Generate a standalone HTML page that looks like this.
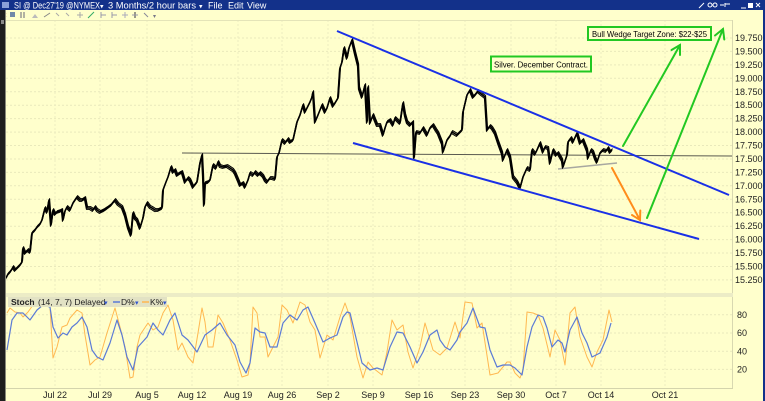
<!DOCTYPE html>
<html><head><meta charset="utf-8">
<style>
html,body{margin:0;padding:0;background:#ffffcc;overflow:hidden;}
svg{display:block;font-family:"Liberation Sans","DejaVu Sans",sans-serif;}
</style></head><body>
<svg id="s" width="765" height="401" viewBox="0 0 765 401" xmlns="http://www.w3.org/2000/svg">
<defs>
<polyline id="pr" fill="none" stroke-linejoin="round" points="6,278 8,274 10,272 12,269 13,267 15,270 17,268 20,265 22,262 23,248 25,253 28,250 30,252 32,233 35,230 37,227 40,224 42,220 45,208 47,212 49,200 51,225 53,210 55,214 57,212 60,211 62,210 63,220 65,211 67,207 70,210 73,203 75,200 77,197 80,200 82,200 85,198 87,208 90,208 93,210 95,207 97,210 100,212 104,210 107,208 111,205 115,200 118,204 122,207 125,215 128,227 131,235 133,213 135,218 137,220 140,228 143,218 145,207 147,203 150,207 152,208 155,210 158,210 162,208 163,190 166,182 168,177 171,167 173,172 175,170 177,175 180,173 182,172 185,182 188,178 190,180 193,187 197,182 200,163 202,155 203,175 204,205 205,183 208,182 210,180 213,165 216,168 218,162 220,166 223,167 227,166 230,168 233,170 235,173 238,180 240,185 243,183 245,187 248,180 250,173 253,175 255,172 258,175 260,173 263,176 265,180 267,182 270,178 272,178 275,179 277,157 279,153 282,140 285,143 288,139 290,142 293,140 297,122 300,115 303,105 305,112 307,108 310,102 312,97 313,92 315,122 318,115 320,110 322,105 325,112 327,108 330,98 333,106 335,103 338,98 340,68 342,62 344,48 347,58 349,48 352,40 355,53 358,65 359,88 362,97 365,85 367,122 368,87 370,123 373,115 377,125 380,125 383,135 385,128 387,122 390,120 393,125 395,118 400,123 403,103 405,115 407,122 410,125 413,122 414,158 416,132 420,133 423,128 427,135 430,128 433,125 436,130 438,133 442,143 443,152 447,140 450,136 452,132 457,135 462,130 463,112 467,95 470,90 473,97 475,95 478,91 480,93 485,97 487,130 490,126 492,128 495,133 498,142 502,153 503,160 507,150 510,157 513,177 517,182 520,188 523,177 527,168 530,170 532,150 535,154 537,150 540,143 543,152 545,147 548,148 550,163 553,150 556,155 558,153 562,160 563,167 567,155 568,142 571,138 573,142 577,133 580,143 583,140 587,150 588,158 591,150 593,152 595,158 597,162 600,153 603,150 606,151 608,148 610,152 612,150"/>
</defs>
<rect width="765" height="401" fill="#ffffcc"/>

<!-- grids -->
<g stroke="#e9e9bb" stroke-width="1" stroke-dasharray="2,2">
<line x1="6" y1="38" x2="732" y2="38"/><line x1="6" y1="51.4" x2="732" y2="51.4"/><line x1="6" y1="64.9" x2="732" y2="64.9"/><line x1="6" y1="78.3" x2="732" y2="78.3"/><line x1="6" y1="91.8" x2="732" y2="91.8"/><line x1="6" y1="105.2" x2="732" y2="105.2"/><line x1="6" y1="118.6" x2="732" y2="118.6"/><line x1="6" y1="132.1" x2="732" y2="132.1"/><line x1="6" y1="145.5" x2="732" y2="145.5"/><line x1="6" y1="159" x2="732" y2="159"/><line x1="6" y1="172.4" x2="732" y2="172.4"/><line x1="6" y1="185.8" x2="732" y2="185.8"/><line x1="6" y1="199.3" x2="732" y2="199.3"/><line x1="6" y1="212.7" x2="732" y2="212.7"/><line x1="6" y1="226.2" x2="732" y2="226.2"/><line x1="6" y1="239.6" x2="732" y2="239.6"/><line x1="6" y1="253" x2="732" y2="253"/><line x1="6" y1="266.5" x2="732" y2="266.5"/><line x1="6" y1="279.9" x2="732" y2="279.9"/>
<line x1="6" y1="314.7" x2="732" y2="314.7"/><line x1="6" y1="333" x2="732" y2="333"/><line x1="6" y1="351.2" x2="732" y2="351.2"/><line x1="6" y1="369.4" x2="732" y2="369.4"/>
</g>
<g stroke="#ececc0" stroke-width="1" stroke-dasharray="2,2">
<line x1="55" y1="20" x2="55" y2="388"/><line x1="100" y1="20" x2="100" y2="388"/><line x1="147" y1="20" x2="147" y2="388"/><line x1="192" y1="20" x2="192" y2="388"/><line x1="238" y1="20" x2="238" y2="388"/><line x1="282" y1="20" x2="282" y2="388"/><line x1="328" y1="20" x2="328" y2="388"/><line x1="373" y1="20" x2="373" y2="388"/><line x1="419" y1="20" x2="419" y2="388"/><line x1="465" y1="20" x2="465" y2="388"/><line x1="511" y1="20" x2="511" y2="388"/><line x1="556" y1="20" x2="556" y2="388"/><line x1="601" y1="20" x2="601" y2="388"/><line x1="665" y1="20" x2="665" y2="388"/>
</g>

<!-- panel borders -->
<line x1="6" y1="20.5" x2="732" y2="20.5" stroke="#e4e4b8"/>
<line x1="732.5" y1="20" x2="732.5" y2="388" stroke="#d8d8b0"/>
<rect x="6" y="293" width="727" height="4" fill="#ececc6"/>
<line x1="6" y1="388.5" x2="733" y2="388.5" stroke="#d4d4ac"/>

<!-- horizontal support line -->
<line x1="182" y1="153" x2="732" y2="156" stroke="#5a5a50" stroke-width="1"/>
<line x1="558" y1="169" x2="617" y2="163" stroke="#a8a8a0" stroke-width="1.6"/>

<!-- price series (thick jagged look) -->
<use href="#pr" stroke="#000" stroke-width="1.6"/>
<use href="#pr" stroke="#000" stroke-width="1" transform="translate(0.6,-1.4)"/>
<use href="#pr" stroke="#000" stroke-width="1" transform="translate(-0.6,1.4)"/>

<!-- wedge lines -->
<line x1="337" y1="31" x2="729" y2="195" stroke="#1a30e6" stroke-width="2"/>
<line x1="353" y1="143" x2="699" y2="239" stroke="#1a30e6" stroke-width="2"/>

<!-- arrows -->
<g fill="none" stroke="#22c822" stroke-width="2" stroke-linecap="round">
<line x1="623" y1="146" x2="680" y2="45"/>
<polyline points="671.5,50 680,45 680,55"/>
<line x1="647" y1="218" x2="723" y2="29"/>
<polyline points="715,35.5 723,29 724.3,39.5"/>
</g>
<g fill="none" stroke="#ff8c1a" stroke-width="2" stroke-linecap="round">
<line x1="612" y1="168" x2="640" y2="220"/>
<polyline points="632,215 640,220 640.3,210.5"/>
</g>

<!-- label boxes -->
<rect x="588" y="27" width="123" height="13" fill="#ffffcc" stroke="#22c822" stroke-width="2"/>
<text x="592" y="37" font-size="8.5" fill="#000" textLength="115" lengthAdjust="spacingAndGlyphs">Bull Wedge Target Zone: $22-$25</text>
<rect x="491" y="56.5" width="100" height="15" fill="#ffffcc" stroke="#22c822" stroke-width="2"/>
<text x="494" y="67.5" font-size="8.5" fill="#000" textLength="94" lengthAdjust="spacingAndGlyphs">Silver. December Contract.</text>

<!-- price axis labels -->
<g font-size="9" fill="#222">
<text x="735" y="41">19.750</text><text x="735" y="54.4">19.500</text><text x="735" y="67.9">19.250</text><text x="735" y="81.3">19.000</text><text x="735" y="94.8">18.750</text><text x="735" y="108.2">18.500</text><text x="735" y="121.6">18.250</text><text x="735" y="135.1">18.000</text><text x="735" y="148.5">17.750</text><text x="735" y="162">17.500</text><text x="735" y="175.4">17.250</text><text x="735" y="188.8">17.000</text><text x="735" y="202.3">16.750</text><text x="735" y="215.7">16.500</text><text x="735" y="229.2">16.250</text><text x="735" y="242.6">16.000</text><text x="735" y="256">15.750</text><text x="735" y="269.5">15.500</text><text x="735" y="282.9">15.250</text>
<text x="737" y="318">80</text><text x="737" y="336">60</text><text x="737" y="354.5">40</text><text x="737" y="372.5">20</text>
</g>

<!-- stochastic -->
<polyline fill="none" stroke="#ffb850" stroke-width="1" stroke-linejoin="round" points="7,313 10,308 15,312 20,313 23,317 28,312 33,305 38,302 47,303 50,307 53,358 57,347 62,327 67,325 70,318 77,310 82,313 85,335 90,365 95,360 100,357 107,333 115,308 120,327 125,347 130,378 133,377 137,347 140,335 148,323 153,330 158,327 163,313 168,305 173,320 178,350 182,343 188,357 193,363 198,333 202,308 205,322 208,347 213,347 218,315 223,323 230,340 237,360 242,377 248,375 250,363 253,307 257,313 260,337 265,337 268,357 273,347 278,337 282,305 287,310 293,323 300,302 305,305 310,322 315,330 320,358 327,335 333,340 340,317 345,303 350,317 357,357 363,378 368,362 373,368 382,375 387,352 392,320 397,330 403,325 408,352 413,368 420,347 425,323 428,333 433,350 440,355 447,348 455,322 460,338 465,302 472,303 477,328 482,323 490,375 498,373 507,362 510,362 515,373 520,378 523,370 527,312 533,313 538,315 543,328 550,357 555,330 560,340 565,365 570,313 575,307 580,337 587,357 592,367 597,352 603,340 609,310 612,322"/>
<polyline fill="none" stroke="#5b7bd6" stroke-width="1.2" stroke-linejoin="round" points="7,350 12,320 17,313 23,313 30,320 37,310 43,305 50,307 53,327 58,338 63,333 67,335 72,327 77,323 82,317 87,327 92,350 97,357 103,360 110,343 117,320 122,335 127,357 133,370 138,347 147,337 153,323 158,330 163,335 170,320 175,313 182,335 188,340 197,352 205,335 212,330 220,323 227,335 235,345 240,362 246,373 250,363 255,328 260,332 265,333 270,347 277,347 283,323 290,315 297,320 303,310 308,307 315,323 323,342 330,338 337,335 343,317 347,312 350,313 357,342 362,363 370,370 377,368 383,370 390,347 397,332 403,333 410,347 417,363 423,352 430,335 437,330 440,340 445,347 450,350 457,340 460,332 467,323 473,308 480,327 485,328 490,350 497,367 503,365 510,365 515,368 522,375 527,347 532,327 538,315 543,317 547,328 552,347 558,340 562,343 565,352 570,330 577,317 582,333 587,343 592,357 600,353 607,337 611,323"/>

<!-- stoch header -->
<rect x="8" y="297" width="159" height="10" fill="#e2e2c4"/>
<g font-size="8.5" fill="#222">
<text x="11" y="305" font-weight="bold">Stoch</text>
<text x="38" y="305">(14, 7, 7) Delayed</text>
<text x="104" y="305" fill="#3355cc" font-size="7">▾</text>
<line x1="113" y1="302" x2="120" y2="302" stroke="#5b7bd6" stroke-width="1.5"/>
<text x="121" y="305">D%</text>
<text x="135" y="305" fill="#3355cc" font-size="7">▾</text>
<line x1="142" y1="302" x2="149" y2="302" stroke="#ffb850" stroke-width="1.5"/>
<text x="150" y="305">K%</text>
<text x="163" y="305" fill="#3355cc" font-size="7">▾</text>
</g>

<!-- date labels -->
<g font-size="9" fill="#222" text-anchor="middle">
<text x="55" y="398">Jul 22</text><text x="100" y="398">Jul 29</text><text x="147" y="398">Aug 5</text><text x="192" y="398">Aug 12</text><text x="238" y="398">Aug 19</text><text x="282" y="398">Aug 26</text><text x="328" y="398">Sep 2</text><text x="373" y="398">Sep 9</text><text x="419" y="398">Sep 16</text><text x="465" y="398">Sep 23</text><text x="511" y="398">Sep 30</text><text x="556" y="398">Oct 7</text><text x="601" y="398">Oct 14</text><text x="665" y="398">Oct 21</text>
</g>

<!-- title bar -->
<rect x="0" y="0" width="765" height="10" fill="#13318a"/>
<rect x="2" y="2" width="7" height="6" fill="#8aa0d8"/>
<g font-size="9" fill="#fff">
<text x="14" y="8.5" textLength="86" lengthAdjust="spacingAndGlyphs">SI @ Dec27'19 @NYMEX</text>
<text x="100" y="8.5" font-size="7">▾</text>
<text x="108" y="8.5" textLength="88" lengthAdjust="spacingAndGlyphs">3 Months/2 hour bars</text>
<text x="199" y="8.5" font-size="7">▾</text>
<text x="208" y="8.5">File</text>
<text x="228" y="8.5">Edit</text>
<text x="247" y="8.5">View</text>
</g>
<g stroke="#fff" fill="none" stroke-width="1">
<line x1="699" y1="8" x2="704" y2="3"/>
<circle cx="710" cy="5" r="2"/><circle cx="715" cy="5" r="2"/>
<line x1="720" y1="5" x2="724" y2="5"/><line x1="725" y1="3" x2="725" y2="7"/><line x1="725" y1="4" x2="730" y2="4"/>
<line x1="741" y1="8" x2="746" y2="8"/>
<line x1="756" y1="3" x2="760" y2="7"/><line x1="760" y1="3" x2="756" y2="7"/>
</g>
<rect x="748" y="3" width="5" height="5" fill="#fff"/>

<!-- toolbar -->
<g stroke-width="1">
<line x1="2" y1="13" x2="6" y2="17" stroke="#cc2222"/><line x1="6" y1="13" x2="2" y2="17" stroke="#cc2222"/>
<rect x="10" y="12" width="5" height="5" fill="#7088a8"/>
<line x1="21" y1="12" x2="21" y2="18" stroke="#667"/><line x1="24" y1="12" x2="24" y2="18" stroke="#667"/>
<path d="M32 18 L35 14 L38 18Z" fill="#bbb"/>
<line x1="44" y1="17" x2="50" y2="13" stroke="#888"/>
<line x1="56" y1="13" x2="59" y2="16" stroke="#aaa"/>
<line x1="66" y1="13" x2="69" y2="16" stroke="#aaa"/>
<line x1="77" y1="15" x2="83" y2="15" stroke="#aaa"/><line x1="80" y1="12" x2="80" y2="18" stroke="#aaa"/>
<line x1="88" y1="18" x2="94" y2="12" stroke="#3a6"/>
<line x1="101" y1="12" x2="101" y2="18" stroke="#99a"/><line x1="101" y1="15" x2="106" y2="15" stroke="#99a"/>
<line x1="112" y1="12" x2="112" y2="18" stroke="#99a"/><line x1="112" y1="15" x2="117" y2="15" stroke="#99a"/>
<line x1="125" y1="12" x2="125" y2="18" stroke="#aab"/><line x1="122" y1="15" x2="128" y2="15" stroke="#aab"/>
<line x1="135" y1="12" x2="135" y2="18" stroke="#334"/><line x1="132" y1="15" x2="138" y2="15" stroke="#99a"/>
<line x1="144" y1="13" x2="148" y2="17" stroke="#889"/>
<text x="153" y="18" font-size="6" fill="#778">▾</text>
</g>

<!-- window edges -->
<rect x="0" y="10" width="5" height="391" fill="#1e1e1e"/>
<rect x="5" y="10" width="1" height="391" fill="#8a8a7a"/>
<rect x="1" y="20" width="3" height="4" fill="#888"/>
<rect x="763" y="0" width="2" height="401" fill="#13318a"/>
</svg>
</body></html>
